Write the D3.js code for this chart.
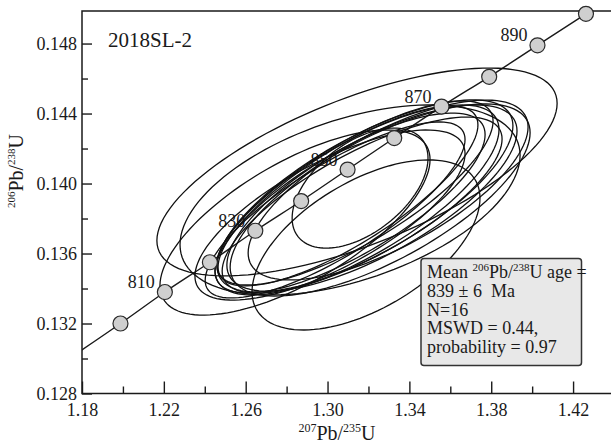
<!DOCTYPE html>
<html><head><meta charset="utf-8">
<script src="https://cdn.jsdelivr.net/npm/d3@7"></script>
<style>
body{margin:0;background:#fff}
svg{display:block}
text{font-family:"Liberation Serif","Times New Roman",serif;fill:#1a1a1a}
</style>
</head><body>
<svg id="chart" width="611" height="446"></svg>
<script>
// ---- axis ticks ----
const xTicks = [1.18, 1.22, 1.26, 1.30, 1.34, 1.38, 1.42];
const xMinor = [1.20, 1.24, 1.28, 1.32, 1.36, 1.40];
const yTicks = [0.128, 0.132, 0.136, 0.140, 0.144, 0.148];
const yMinor = [0.130, 0.134, 0.138, 0.142, 0.146];

// ---- concordia points (Ma) ----
const ages    = [800, 810, 820, 830, 840, 850, 860, 870, 880, 890, 900];
const conc207 = [1.1988, 1.2205, 1.2425, 1.2647, 1.2871, 1.3098, 1.3326, 1.3557, 1.3790, 1.4026, 1.4263];
const conc206 = [0.1320, 0.1338, 0.1355, 0.1373, 0.1390, 0.1408, 0.1426, 0.1444, 0.1461, 0.1479, 0.1497];
const labelledAges = [810, 830, 850, 870, 890];
// concordia curve nodes (incl. ends beyond the frame)
const curve207 = [1.1772, 1.1988, 1.2205, 1.2425, 1.2647, 1.2871, 1.3098, 1.3326, 1.3557, 1.3790, 1.4026, 1.4263, 1.4504];
const curve206 = [0.13027, 0.1320, 0.1338, 0.1355, 0.1373, 0.1390, 0.1408, 0.1426, 0.1444, 0.1461, 0.1479, 0.1497, 0.1515];

// ---- analyses: error ellipses ----
const e207    = [1.3144, 1.3188, 1.3159, 1.2841, 1.3110, 1.3144, 1.3110, 1.3183, 1.3037, 1.3217, 1.3134, 1.3257, 1.3012, 1.3296, 1.3169, 1.3100];
const e207err = [0.0978, 0.0557, 0.0332, 0.0660, 0.0831, 0.0694, 0.0660, 0.0723, 0.0635, 0.0709, 0.0675, 0.0733, 0.0660, 0.0684, 0.0684, 0.0635];
const e206    = [0.14066, 0.13649, 0.13974, 0.13777, 0.13906, 0.13906, 0.13889, 0.13929, 0.13849, 0.13917, 0.13946, 0.13906, 0.13820, 0.13963, 0.13877, 0.13929];
const e206err = [0.00594, 0.00486, 0.00343, 0.00529, 0.00543, 0.00543, 0.00514, 0.00549, 0.00503, 0.00532, 0.00526, 0.00549, 0.00486, 0.00514, 0.00503, 0.00514];
const eRho    = [0.66, 0.55, 0.50, 0.68, 0.47, 0.74, 0.76, 0.73, 0.80, 0.72, 0.78, 0.70, 0.72, 0.70, 0.75, 0.79];

// ---- texts ----
const sampleName = "2018SL-2";
const statLines = ["839 \u00B1 6  Ma", "N=16", "MSWD = 0.44,", "probability = 0.97"];

const svg = d3.select("#chart");
const x = d3.scaleLinear().domain([1.18, 1.44]).range([82, 614]);
const y = d3.scaleLinear().domain([0.128, 0.14986]).range([393.5, 11]);
const ink = "#1a1a1a";

// clip for plot area
svg.append("defs").append("clipPath").attr("id", "plot")
  .append("rect").attr("x", x(1.18)).attr("y", y(0.14986))
  .attr("width", x(1.44) - x(1.18)).attr("height", y(0.128) - y(0.14986));

// axes
const fmtY = d3.format(".3f"), fmtX = d3.format(".2f");
const gy = svg.append("g").attr("transform", `translate(${x(1.18)},0)`)
  .call(d3.axisLeft(y).tickValues(yTicks).tickFormat(fmtY).tickSizeInner(-10).tickSizeOuter(0).tickPadding(5));
const gym = svg.append("g").attr("transform", `translate(${x(1.18)},0)`)
  .call(d3.axisLeft(y).tickValues(yMinor).tickFormat("").tickSizeInner(-6).tickSizeOuter(0));
const gx = svg.append("g").attr("transform", `translate(0,${y(0.128)})`)
  .call(d3.axisBottom(x).tickValues(xTicks).tickFormat(fmtX).tickSizeInner(-12).tickSizeOuter(0).tickPadding(10));
const gxm = svg.append("g").attr("transform", `translate(0,${y(0.128)})`)
  .call(d3.axisBottom(x).tickValues(xMinor).tickFormat("").tickSizeInner(-7).tickSizeOuter(0));
[gy, gym, gx, gxm].forEach(g => {
  g.select(".domain").remove();
  g.selectAll("line").attr("stroke", ink).attr("stroke-width", 1.4);
  g.selectAll("text").attr("font-size", 18).attr("fill", ink)
   .style("font-family", '"Liberation Serif","Times New Roman",serif');
});

// frame
const frame = svg.append("g").attr("stroke", ink).attr("stroke-width", 1.5).attr("fill", "none");
frame.append("path").attr("d", `M${x(1.44)},${y(0.14986)}H${x(1.18)}V${y(0.128)}H${x(1.44)}`);

// axis titles
const yt = svg.append("text").attr("transform", `translate(23,171) rotate(-90)`)
  .attr("text-anchor", "middle").attr("font-size", 20);
yt.append("tspan").attr("font-size", 11).attr("dy", -8).text("206");
yt.append("tspan").attr("dy", 8).text("Pb/");
yt.append("tspan").attr("font-size", 11).attr("dy", -8).text("238");
yt.append("tspan").attr("dy", 8).text("U");

const xt = svg.append("text").attr("x", 337).attr("y", 440)
  .attr("text-anchor", "middle").attr("font-size", 20);
xt.append("tspan").attr("font-size", 12).attr("dy", -8).text("207");
xt.append("tspan").attr("dy", 8).text("Pb/");
xt.append("tspan").attr("font-size", 12).attr("dy", -8).text("235");
xt.append("tspan").attr("dy", 8).text("U");

// sample name
svg.append("text").attr("x", 108).attr("y", 46.5).attr("font-size", 21).text(sampleName);

// age labels
labelledAges.forEach(a => {
  const i = ages.indexOf(a);
  svg.append("text").attr("x", x(conc207[i]) - 10).attr("y", y(conc206[i]) - 4)
    .attr("text-anchor", "end").attr("font-size", 18).text(a);
});

// concordia line
const plot = svg.append("g").attr("clip-path", "url(#plot)");
plot.append("path")
  .datum(curve207.map((v, i) => [v, curve206[i]]))
  .attr("d", d3.line().x(d => x(d[0])).y(d => y(d[1])).curve(d3.curveCatmullRom))
  .attr("fill", "none").attr("stroke", ink).attr("stroke-width", 1.4);

// ellipses
const N = 120;
const ellLine = d3.line().x(d => x(d[0])).y(d => y(d[1])).curve(d3.curveLinearClosed);
e207.forEach((cx, k) => {
  const ex = e207err[k], ey = e206err[k], r = eRho[k], s = Math.sqrt(1 - r * r);
  const pts = d3.range(N).map(j => {
    const t = 2 * Math.PI * j / N;
    return [cx + ex * Math.cos(t), e206[k] + ey * (r * Math.cos(t) + s * Math.sin(t))];
  });
  plot.append("path").datum(pts).attr("d", ellLine)
    .attr("fill", "none").attr("stroke", "#111").attr("stroke-width", 1.3);
});

// concordia points
svg.append("g").selectAll("circle").data(ages).join("circle")
  .attr("cx", (d, i) => x(conc207[i])).attr("cy", (d, i) => y(conc206[i]))
  .attr("r", 7.5).attr("fill", "#cfcfcf").attr("stroke", "#2a2a2a").attr("stroke-width", 1.2);

// stats box
svg.append("rect").attr("x", 421).attr("y", 258.5).attr("width", 160.5).attr("height", 107)
  .attr("rx", 3).attr("fill", "#e8e8e8").attr("stroke", "#333").attr("stroke-width", 1.5);
const t0 = svg.append("text").attr("x", 427).attr("y", 278.3).attr("font-size", 18);
t0.append("tspan").text("Mean ");
t0.append("tspan").attr("font-size", 11).attr("dy", -7).text("206");
t0.append("tspan").attr("dy", 7).text("Pb/");
t0.append("tspan").attr("font-size", 11).attr("dy", -7).text("238");
t0.append("tspan").attr("dy", 7).text("U age =");
statLines.forEach((s, i) => {
  svg.append("text").attr("x", 427).attr("y", 297 + i * 18.7).attr("font-size", 18)
    .attr("xml:space", "preserve").style("white-space", "pre").text(s);
});
</script>
</body></html>
